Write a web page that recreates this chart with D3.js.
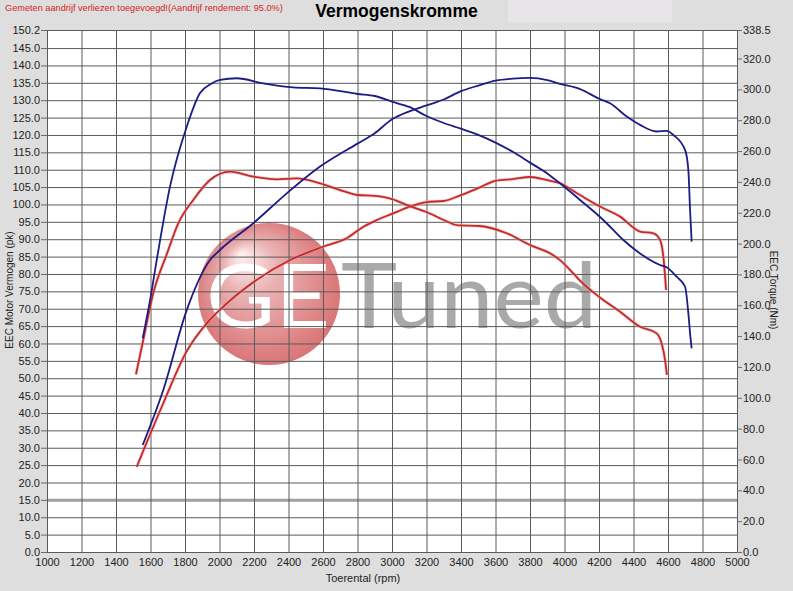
<!DOCTYPE html>
<html><head><meta charset="utf-8">
<script src="https://cdn.jsdelivr.net/npm/d3@7"></script>
<style>html,body{margin:0;padding:0;background:#dedede;}svg{display:block;}</style>
</head><body>
<script>
// ---- data ----
const rpmTicks = d3.range(1000, 5001, 200);
const powerTicks = [150.2].concat(d3.range(145, -1, -5));
const torqueTicks = [338.5].concat(d3.range(320, -1, -20));

const tunedTorqueRpm = [1555,1600,1636,1713,1810,1887,1950,2003,2100,2252,2426,2583,2800,2900,3000,3100,3200,3300,3400,3500,3600,3700,3800,3900,3974,4090,4225,4341,4438,4554,4592,4650,4699,4718,4728,4737];
const tunedTorqueNm = [138.6,165,189.3,236.9,275.8,297.6,303.5,306.1,307.2,303.9,301.3,300.7,297,295.7,292,288.6,282.7,278.2,274.5,270.5,265.5,259.5,252.5,245.5,239.1,228.3,215.3,202.3,193.6,186.1,184.6,178.5,172.0,154.8,141.8,132.1];

const tunedPowerRpm = [1555,1674,1810,1945,2003,2196,2390,2583,2800,2900,3000,3100,3200,3300,3400,3500,3600,3700,3800,3900,3974,4090,4206,4264,4361,4438,4534,4592,4631,4699,4718,4728,4737];
const tunedPowerPk = [30.8,46.6,69.6,84.0,86.9,94.6,103.2,110.9,117.5,120.5,124.5,126.8,128.5,130.2,132.6,134.2,135.6,136.2,136.4,135.8,134.7,133.2,130.3,129.1,125.3,122.9,121.0,121.2,120.0,115.7,109.9,98.4,89.3];

const stockTorqueRpm = [1516,1558,1616,1694,1761,1848,1945,2061,2196,2332,2448,2583,2700,2800,2900,3000,3100,3200,3300,3375,3510,3665,3800,3916,3974,4051,4090,4206,4322,4438,4534,4563,4583,4594];
const stockTorqueNm = [115.2,137.5,167.8,193,213.1,228.3,241.2,246.6,243.4,241.7,242.3,239.1,234.7,231.5,230.9,228.9,224.4,220.5,215.3,212.0,211.4,206.7,199.1,193.7,189.3,180.7,176,165,155.8,146.1,141.8,135.3,124.5,114.8];

const stockPowerRpm = [1520,1568,1674,1810,1926,2022,2216,2409,2602,2737,2834,2911,3000,3100,3200,3300,3400,3500,3600,3700,3800,3900,3974,4090,4206,4322,4438,4515,4554,4573,4589];
const stockPowerPk = [24.5,30.3,42.8,57.8,65.8,70.6,78.3,84.0,87.9,90.3,93.6,95.5,97.3,99.3,100.7,101.0,102.7,104.7,106.8,107.3,107.9,107.0,106.1,102.7,99.4,96.5,92.2,91.7,89.8,85.0,75.4];

// ---- chart ----
const W = 793, H = 591;
const svg = d3.select("body").append("svg").attr("width", W).attr("height", H);
svg.append("rect").attr("width", W).attr("height", H).attr("fill", "#dedede");
svg.append("rect").attr("x", 508).attr("y", 0).attr("width", 164).attr("height", 22).attr("fill", "#e7e5e7");

const x = d3.scaleLinear().domain([1000, 5000]).range([47, 737]);
const yP = d3.scaleLinear().domain([0, 150.2]).range([552, 30]);
const yT = d3.scaleLinear().domain([0, 338.5]).range([552, 30]);

svg.append("rect").attr("x", 47).attr("y", 30).attr("width", 690).attr("height", 522).attr("fill", "#ffffff");

// watermark
const defs = svg.append("defs");
const rg = defs.append("radialGradient").attr("id", "wm").attr("cx", "0.5").attr("cy", "0.5").attr("r", "0.55").attr("fx", "0.3").attr("fy", "0.22");
rg.append("stop").attr("offset", "0").attr("stop-color", "#fdf3f3");
rg.append("stop").attr("offset", "0.35").attr("stop-color", "#eab2b3");
rg.append("stop").attr("offset", "1").attr("stop-color", "#d86f71");
svg.append("circle").attr("cx", 269).attr("cy", 294).attr("r", 71).attr("fill", "url(#wm)");
svg.append("text").attr("x", 206).attr("y", 328).attr("font-family", "Lato, 'Open Sans', sans-serif").attr("font-weight", 400)
  .attr("font-size", 90).attr("fill", "#ffffff").attr("textLength", 124).attr("lengthAdjust", "spacingAndGlyphs").text("GE");
svg.append("text").attr("x", 341).attr("y", 328).attr("font-family", "Lato, 'Open Sans', sans-serif").attr("font-weight", 400)
  .attr("font-size", 92).attr("fill", "#a9a9a9").attr("textLength", 256).attr("lengthAdjust", "spacingAndGlyphs").text("Tuned");

// grid
const grid = svg.append("g");
grid.selectAll(".h").data(powerTicks).join("line")
  .attr("x1", 47).attr("x2", 737).attr("y1", d => yP(d) + 0.5).attr("y2", d => yP(d) + 0.5)
  .attr("stroke", d => d === 15 ? "#a0a0a0" : "#5a5a5a").attr("stroke-width", d => d === 15 ? 3 : 1);
grid.selectAll(".v").data(rpmTicks).join("line")
  .attr("x1", d => x(d) + 0.5).attr("x2", d => x(d) + 0.5).attr("y1", 30).attr("y2", 552)
  .attr("stroke", "#5a5a5a").attr("stroke-width", 1);

// axes
const font = "Arial, 'Liberation Sans', sans-serif";
const leftAxis = svg.append("g").attr("transform", "translate(47,0)")
  .call(d3.axisLeft(yP).tickValues(powerTicks).tickFormat(d3.format(".1f")).tickSize(6).tickPadding(1));
const rightAxis = svg.append("g").attr("transform", "translate(737,0)")
  .call(d3.axisRight(yT).tickValues(torqueTicks).tickFormat(d3.format(".1f")).tickSize(5).tickPadding(1));
const bottomAxis = svg.append("g").attr("transform", "translate(0,552)")
  .call(d3.axisBottom(x).tickValues(rpmTicks).tickFormat(d3.format("d")).tickSize(0).tickPadding(6));
[leftAxis, rightAxis, bottomAxis].forEach(a => {
  a.select(".domain").remove();
  a.selectAll(".tick line").attr("stroke", "#6a6a6a");
  a.selectAll("text").attr("font-family", font).attr("font-size", 11).attr("fill", "#222");
});

// curves
const lineP = (rpm, v) => d3.line().x((d, i) => x(rpm[i])).y(d => yP(d)).curve(d3.curveMonotoneX)(v);
const lineT = (rpm, v) => d3.line().x((d, i) => x(rpm[i])).y(d => yT(d)).curve(d3.curveMonotoneX)(v);
const curves = [
  {d: lineP(stockPowerRpm, stockPowerPk), c: "#c32a2a", halo: true},
  {d: lineT(stockTorqueRpm, stockTorqueNm), c: "#c32a2a", halo: true},
  {d: lineP(tunedPowerRpm, tunedPowerPk), c: "#1c1c84", halo: false},
  {d: lineT(tunedTorqueRpm, tunedTorqueNm), c: "#1c1c84", halo: false}
];
curves.forEach(k => {
  if (k.halo) svg.append("path").attr("d", k.d).attr("fill", "none").attr("stroke", "#f0a8a8").attr("stroke-opacity", 0.5).attr("stroke-width", 3.5);
  svg.append("path").attr("d", k.d).attr("fill", "none").attr("stroke", k.c).attr("stroke-width", 1.8);
});

// texts
svg.append("text").attr("x", 5).attr("y", 11).attr("font-family", font).attr("font-size", 9.2).attr("fill", "#d42424")
  .text("Gemeten aandrijf verliezen toegevoegd!(Aandrijf rendement: 95.0%)");
svg.append("text").attr("x", 396.5).attr("y", 17).attr("text-anchor", "middle").attr("font-family", font).attr("font-weight", "bold")
  .attr("font-size", 17.5).attr("fill", "#000").text("Vermogenskromme");
svg.append("text").attr("transform", "translate(13,290) rotate(-90)").attr("text-anchor", "middle").attr("font-family", font)
  .attr("font-size", 10).attr("fill", "#222").text("EEC Motor Vermogen (pk)");
svg.append("text").attr("transform", "translate(770,290) rotate(90)").attr("text-anchor", "middle").attr("font-family", font)
  .attr("font-size", 10).attr("fill", "#222").text("EEC Torque (Nm)");
svg.append("text").attr("x", 363).attr("y", 582).attr("text-anchor", "middle").attr("font-family", font)
  .attr("font-size", 11).attr("fill", "#222").text("Toerental (rpm)");
</script>
</body></html>
